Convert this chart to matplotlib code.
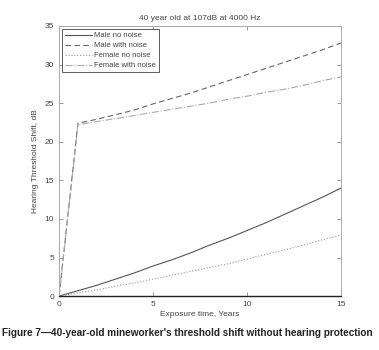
import matplotlib
matplotlib.use("Agg")
import matplotlib.pyplot as plt

years = [0, 1, 2, 3, 4, 5, 6, 7, 8, 9, 10, 11, 12, 13, 14, 15]
male_no_noise = [0, 0.7, 1.4, 2.2, 3.0, 3.9, 4.7, 5.6, 6.6, 7.5, 8.5, 9.5, 10.6, 11.7, 12.8, 14.0]
male_with_noise = [0, 22.4, 22.9, 23.5, 24.1, 24.9, 25.6, 26.3, 27.1, 27.9, 28.7, 29.5, 30.3, 31.1, 31.9, 32.8]
female_no_noise = [0, 0.4, 0.8, 1.3, 1.7, 2.2, 2.7, 3.2, 3.7, 4.2, 4.8, 5.4, 6.0, 6.6, 7.3, 7.9]
female_with_noise = [0, 22.2, 22.6, 23.0, 23.4, 23.8, 24.2, 24.6, 25.0, 25.5, 25.9, 26.4, 26.8, 27.3, 27.9, 28.4]

plt.rcParams["font.family"] = ["Liberation Sans", "DejaVu Sans"]

fig = plt.figure(figsize=(3.79, 3.5), dpi=100)
ax = fig.add_axes([0.156, 0.154, 0.744, 0.772])

ax.plot(years, male_no_noise, "-", color="#555555", lw=0.8, label="Male no noise")
ax.plot(years, male_with_noise, "--", color="#666666", lw=0.8, dashes=(5, 3), label="Male with noise")
ax.plot(years, female_no_noise, ":", color="#999999", lw=0.8, label="Female no noise")
ax.plot(years, female_with_noise, "-.", color="#aaaaaa", lw=0.8, label="Female with noise")

ax.set_xlim(0, 15)
ax.set_ylim(0, 35)
ax.set_xticks([0, 5, 10, 15])
ax.set_yticks([0, 5, 10, 15, 20, 25, 30, 35])
ax.tick_params(direction="in", top=True, right=True, labelsize=6, length=3,
               width=0.6, colors="#888888", labelcolor="#444444")
for s in ax.spines.values():
    s.set_color("#aaaaaa")
    s.set_linewidth(0.7)
ax.spines["bottom"].set_color("#222222")
ax.spines["bottom"].set_linewidth(1.0)

ax.set_title("40 year old at 107dB at 4000 Hz", fontsize=6, color="#444444", pad=4)
ax.set_xlabel("Exposure time, Years", fontsize=6, color="#444444", labelpad=2)
ax.set_ylabel("Hearing Threshold Shift, dB", fontsize=6, color="#444444", labelpad=4)

leg = ax.legend(loc="upper left", fontsize=5.5, frameon=True, fancybox=False,
                borderaxespad=0.4, handlelength=3.5, labelspacing=0.35,
                borderpad=0.4, handletextpad=0.3)
leg.get_frame().set_edgecolor("#333333")
leg.get_frame().set_linewidth(0.7)
for t in leg.get_texts():
    t.set_color("#444444")

fig.text(0.006, 0.048, "Figure 7\u201440-year-old mineworker's threshold shift without hearing protection",
         fontsize=7.2, fontweight="bold", color="#222222", ha="left", va="center")

fig.savefig("out.png", dpi=100)
